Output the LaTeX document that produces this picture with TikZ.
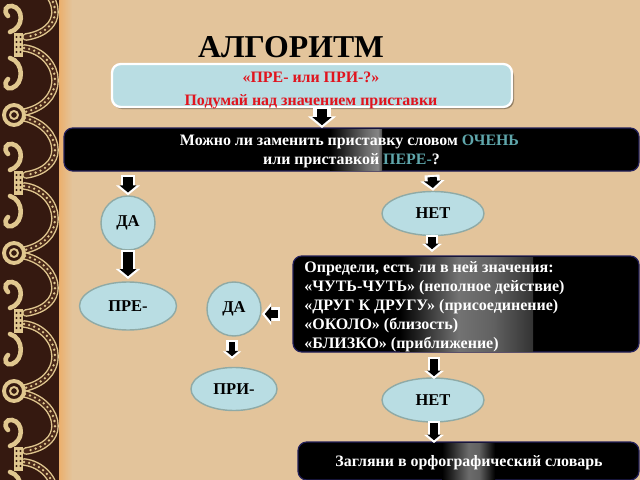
\documentclass[tikz,border=0pt]{standalone}
\usepackage{fontspec}
\setmainfont{Liberation Serif}
\usetikzlibrary{shapes.geometric,arrows.meta}

\definecolor{tanback}{HTML}{E3C49B}
\definecolor{oval}{HTML}{B9DDE3}
\definecolor{ovaledge}{HTML}{8FAAA6}
\definecolor{ornback}{HTML}{351910}
\definecolor{orngold}{HTML}{E0C78F}
\definecolor{orndark}{HTML}{5A3420}
\definecolor{tealword}{HTML}{5FA6AB}
\definecolor{navyedge}{HTML}{23205A}
\definecolor{redword}{HTML}{E0141E}

% stops run from 25bp to 75bp across the filled strip
\pgfdeclarehorizontalshading{askband}{100bp}{color(0bp)=(black); color(25bp)=(black); color(60bp)=(black!58); color(71bp)=(black!48); color(75bp)=(black!70); color(100bp)=(black)}
\pgfdeclarehorizontalshading{meaningband}{100bp}{color(0bp)=(black); color(25bp)=(black); color(47bp)=(black!55); color(60bp)=(black!62); color(75bp)=(black!80); color(100bp)=(black)}
\pgfdeclarehorizontalshading{dictband}{100bp}{color(0bp)=(black); color(25bp)=(black); color(50bp)=(black!58); color(60bp)=(black!62); color(75bp)=(black); color(100bp)=(black)}

\tikzset{
  roundoval/.style={ellipse,draw=ovaledge,fill=oval,line width=0.8pt,inner sep=0pt,font=\bfseries\fontsize{9.4}{11}\selectfont},
  darkbox/.style={rectangle,rounded corners=5pt,draw=navyedge,fill=black,line width=0.7pt,inner sep=0pt},
  boxtext/.style={text=white,inner sep=0pt,font=\bfseries\fontsize{9.05}{10.8}\selectfont},
  redtext/.style={text=redword,font=\bfseries\fontsize{9.05}{10}\selectfont},
  whitepart/.style={draw=white,line width=8.5pt*#1,-{Triangle[width=13.6pt*#1,length=5.7pt*#1]}},
  blackpart/.style={draw=black,line width=5.2pt*#1,shorten >=1.6pt,shorten <=1.2pt,-{Triangle[width=9.4pt*#1,length=4pt*#1]}},
  orncurve/.style={line width=4.4pt,draw=orngold,line cap=round,
    postaction={draw=orndark!60!ornback,line width=2.8pt},
    postaction={draw=orngold,line width=1.5pt,dash pattern=on 0pt off 3pt}},
  ornhook/.style={line width=2.6pt,draw=orngold,line cap=round}
}
\newcommand{\blockarrow}[3][1]{
  \draw[whitepart=#1] #2 -- #3;
  \draw[blackpart=#1] #2 -- #3;
}

\begin{document}
\begin{tikzpicture}[x=0.02cm,y=-0.02cm]
	\useasboundingbox (0,0) rectangle (640,480);
	\fill[tanback] (0,0) rectangle (640,480);

	% border
	\fill[ornback] (0,0) rectangle (59,480);
	\fill[left color=orange!30!tanback,right color=tanback] (59,0) rectangle (72,480);
	\begin{scope}
	\clip (1,0) rectangle (59,480);
	\foreach \row in {-1,0,1,2,3} {
	  \begin{scope}[yshift=-\row*138*0.02cm]
	    \draw[orncurve] (24,48) .. controls (42,50) and (55,65) .. (55,80) .. controls (55,97) and (42,108) .. (25,112);
	    \draw[orncurve] (25,118) .. controls (42,122) and (55,135) .. (55,150) .. controls (55,162) and (45,172) .. (26,175);
	    \draw[ornhook] (10,58) .. controls (24,62) and (24,84) .. (12,88) .. controls (6,90) and (3,84) .. (8,79);
	    \draw[ornhook] (10,32) .. controls (24,28) and (24,8) .. (12,6) .. controls (6,5) and (3,11) .. (8,16);
	    \fill[orngold] (14,33) rectangle (23,57);
	    \foreach \dotrow in {37,42,47,52}
	      \fill[ornback] (16.5,\dotrow) circle (0.7pt) (20.5,\dotrow) circle (0.7pt);
	    \draw[orngold,line width=2.2pt,fill=ornback] (14,115) circle (10);
	    \draw[orngold,line width=1.1pt] (14,115) circle (4);
	  \end{scope}
	}
	\end{scope}

	\node (title) at (291,47) {\bfseries\fontsize{18.1}{20}\selectfont АЛГОРИТМ};

	\fill[tanback!65!black,rounded corners=5pt] (113,67) rectangle (514,109);
	\node (topbox) [rectangle,rounded corners=5pt,draw=white,fill=oval,line width=1.3pt,inner sep=0pt,
	  minimum width=400*0.02cm,minimum height=43*0.02cm] at (312,85.5) {};
	\node (toptext1) [redtext] at (311,77) {«ПРЕ- или ПРИ-?»};
	\node (toptext2) [redtext] at (311,102) {Подумай над значением приставки};

	\node (ask) [darkbox,minimum width=575*0.02cm,minimum height=43*0.02cm] at (351.5,149.5) {};
	\shade[shading=askband] (330,129) rectangle (382,170);
	\node (asktext) [boxtext,align=center] at (351.5,151)
	  {Можно ли заменить приставку словом \textcolor{tealword}{ОЧЕНЬ}\hspace*{2.3pt}\\или приставкой \textcolor{tealword}{ПЕРЕ-}?};

	\node (yesone) [roundoval,minimum width=54*0.02cm,minimum height=54*0.02cm] at (128,223) {ДА};
	\node (noone) [roundoval,minimum width=102*0.02cm,minimum height=44*0.02cm] at (433,213.5) {НЕТ};

	\node (meaning) [darkbox,minimum width=346*0.02cm,minimum height=96*0.02cm] at (466,304) {};
	\shade[shading=meaningband] (400,257) rectangle (533,351);
	\node (meaningtext) [boxtext,anchor=west,align=left,font=\bfseries\fontsize{9.1}{10.8}\selectfont] at (304,306.5)
	  {Определи, есть ли в ней значения:\\«ЧУТЬ-ЧУТЬ» (неполное действие)\\«ДРУГ К ДРУГУ» (присоединение)\\«ОКОЛО» (близость)\\«БЛИЗКО» (приближение)};

	\node (pre) [roundoval,minimum width=97*0.02cm,minimum height=48*0.02cm] at (128,306) {ПРЕ-};
	\node (yestwo) [roundoval,minimum width=54*0.02cm,minimum height=54*0.02cm] at (234,309) {ДА};
	\node (pri) [roundoval,minimum width=86*0.02cm,minimum height=43*0.02cm] at (234,389) {ПРИ-};
	\node (notwo) [roundoval,minimum width=102*0.02cm,minimum height=44*0.02cm] at (433,400) {НЕТ};

	\node (dict) [darkbox,minimum width=341*0.02cm,minimum height=38*0.02cm] at (468.5,461) {};
	\shade[shading=dictband] (442,443) rectangle (495,479);
	\node (dicttext) [boxtext] at (469,463) {Загляни в орфографический словарь};

	\coordinate (topstart) at (322,107);
	\coordinate (topend) at (322,128);
	\coordinate (askyes) at (128,175);
	\coordinate (askno) at (432,175);
	\coordinate (yespre) at (128,250);
	\coordinate (yespreend) at (128,279);
	\coordinate (nomean) at (432,235);
	\coordinate (nomeanend) at (432,252);
	\coordinate (meetleft) at (280,314);
	\coordinate (meetright) at (262,314);
	\coordinate (yespri) at (232,340);
	\coordinate (yespriend) at (232,359);
	\coordinate (meanno) at (434,357);
	\coordinate (meannoend) at (434,379);
	\coordinate (nodict) at (434,421);
	\coordinate (nodictend) at (434,443);

	\blockarrow[1.15]{(topstart)}{(topend)}
	\blockarrow{(askyes)}{(yesone.north)}
	\blockarrow{(askno)}{(noone.north)}
	\blockarrow{(yespre)}{(yespreend)}
	\blockarrow[0.8]{(nomean)}{(nomeanend)}
	\blockarrow[0.9]{(meetleft)}{(meetright)}
	\blockarrow[0.75]{(yespri)}{(yespriend)}
	\blockarrow[0.8]{(meanno)}{(meannoend)}
	\blockarrow[0.8]{(nodict)}{(nodictend)}
\end{tikzpicture}
\end{document}
